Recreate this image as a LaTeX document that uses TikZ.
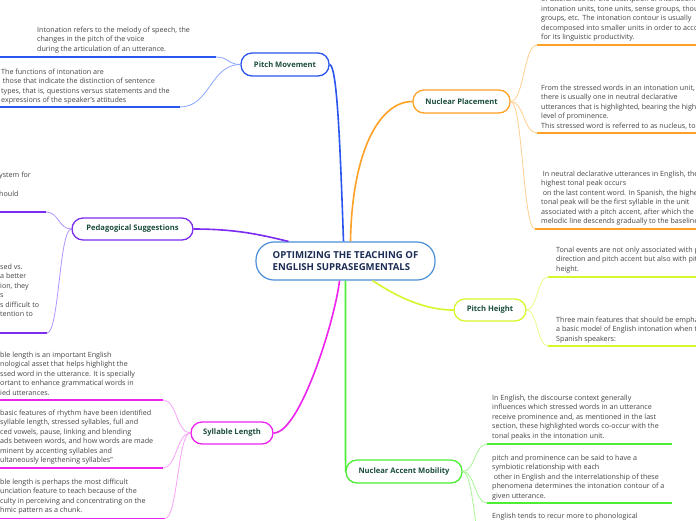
\documentclass[tikz,border=0pt]{standalone}
\usepackage{fontspec}
\setmainfont{Open Sans}
\usetikzlibrary{calc}
\definecolor{blueM}{HTML}{2A55EE}
\definecolor{blueL}{HTML}{8AA6FF}
\definecolor{purpM}{HTML}{7B2CF0}
\definecolor{purpL}{HTML}{B195FF}
\definecolor{magM}{HTML}{EE22EE}
\definecolor{magL}{HTML}{F7A3F7}
\definecolor{orM}{HTML}{FFA125}
\definecolor{orL}{HTML}{FFCF8F}
\definecolor{yelM}{HTML}{D9F52B}
\definecolor{yelL}{HTML}{E9FB8A}
\definecolor{grnM}{HTML}{4CEE33}
\definecolor{grnL}{HTML}{A6F596}
\definecolor{cenB}{HTML}{4A8FD6}
\definecolor{cenT}{HTML}{1C2C55}
\definecolor{topicc}{HTML}{1B4D3E}
\definecolor{leafc}{HTML}{454545}
\newcommand\leafconn[3]{\draw[lconn=#1] let \p1=(#2), \p2=(#3) in (\p1) .. controls ({(\x1+\x2)/2},\y1) and ({(\x1+\x2)/2},\y2) .. (\p2);}
\begin{document}
\begin{tikzpicture}[x=1pt,y=-1pt,
  leaf/.style={anchor=north west,inner sep=0pt,align=left,text=leafc,font=\fontsize{7.15}{9.5}\selectfont},
  topic/.style={draw=#1,line width=1.3pt,rounded corners=11pt,fill=white,text=topicc,font=\fontsize{7.6}{9}\selectfont\bfseries,inner sep=0pt},
  uline/.style={draw=#1,line width=1.6pt},
  lconn/.style={draw=#1,line width=0.8pt},
  mconn/.style={draw=#1,line width=1.6pt}]
\fill[white] (0,0) rectangle (696,520);
\useasboundingbox (0,0) rectangle (696,520);
\clip (0,0) rectangle (696,520);

% central and topics
\node[draw=cenB,line width=1.2pt,rounded corners=18pt,minimum width=179pt,minimum height=38pt,fill=white,
  font=\fontsize{9.6}{12}\selectfont\bfseries,text=cenT,align=left,inner sep=0pt] (c) at (345.5,261)
  {OPTIMIZING THE TEACHING OF\\ENGLISH SUPRASEGMENTALS};
\node[topic=blueM,minimum width=88pt,minimum height=23pt] (pm) at (285,64.5) {Pitch Movement};
\node[topic=purpM,minimum width=121pt,minimum height=22pt] (ps) at (132.5,229) {Pedagogical Suggestions};
\node[topic=magM,minimum width=82pt,minimum height=22pt] (sl) at (232,433) {Syllable Length};
\node[topic=orM,minimum width=97pt,minimum height=23pt] (np) at (461.5,101.5) {Nuclear Placement};
\node[topic=yelM,minimum width=72pt,minimum height=22pt] (ph) at (490,310) {Pitch Height};
\node[topic=grnM,minimum width=116pt,minimum height=23pt] (nam) at (404,471.5) {Nuclear Accent Mobility};

% main connectors
\draw[mconn=blueM] (pm.east) .. controls (337,66) and (340,140) .. ([xshift=-2pt]c.north);
\draw[mconn=orM] ([xshift=5pt]c.north) .. controls (352,150) and (380,101.5) .. (np.west);
\draw[mconn=purpM] (ps.east) .. controls (240,229) and (265,236) .. ([xshift=-57pt]c.north);
\draw[mconn=magM] (sl.east) .. controls (300,433) and (335,320) .. ([xshift=-6pt]c.south);
\draw[mconn=yelM] ([xshift=27pt]c.south) .. controls (390,292) and (420,310) .. (ph.west);
\draw[mconn=grnM] (c.south) -- (345.5,455) .. controls (345.5,468) and (346,471.5) .. (nam.west);

% ---- Pitch Movement leaves
\node[leaf] (pm1) at (37,26.5) {Intonation refers to the melody of speech, the\\changes in the pitch of the voice\\during the articulation of an utterance.};
\coordinate (pm1a) at (216,57); \coordinate (pm1b) at (-5,57);
\node[leaf] (pm2) at (1,68.5) {The functions of intonation are\\\hspace{1.6pt}those that indicate the distinction of sentence\\types, that is, questions versus statements and the\\expressions of the speaker’s attitudes};
\coordinate (pm2a) at (180,107); \coordinate (pm2b) at (-5,107);
\draw[uline=blueM] (pm1a) -- (pm1b);
\draw[uline=blueM] (pm2a) -- (pm2b);
\leafconn{blueL}{pm.west}{pm1a}
\leafconn{blueL}{pm.west}{pm2a}

% ---- Pedagogical Suggestions leaves
\node[leaf] (ps1) at (-1,171.5) {ystem for\\\mbox{}\\hould};
\coordinate (ps1a) at (46,212); \coordinate (ps1b) at (-5,212);
\node[leaf] (ps2) at (0,263.5) {sed vs.\\a better\\ion, they\\s\\s difficult to\\tention to};
\coordinate (ps2a) at (47,333); \coordinate (ps2b) at (-5,333);
\draw[uline=purpM] (ps1a) -- (ps1b);
\draw[uline=purpM] (ps2a) -- (ps2b);
\leafconn{purpL}{ps.west}{ps1a}
\leafconn{purpL}{ps.west}{ps2a}

% ---- Syllable Length leaves
\node[leaf] (sl1) at (0,351.5) {ble length is an important English\\nological asset that helps highlight the\\ssed word in the utterance. It is specially\\ortant to enhance grammatical words in\\ied utterances.};
\coordinate (sl1a) at (163,400); \coordinate (sl1b) at (-5,400);
\node[leaf] (sl2) at (0,409.5) {basic features of rhythm have been identified\\syllable length, stressed syllables, full and\\ced vowels, pause, linking and blending\\ads between words, and how words are made\\minent by accenting syllables and\\ultaneously lengthening syllables”};
\coordinate (sl2a) at (163,468); \coordinate (sl2b) at (-5,468);
\node[leaf] (sl3) at (0,478.5) {ble length is perhaps the most difficult\\unciation feature to teach because of the\\culty in perceiving and concentrating on the\\hmic pattern as a chunk.};
\coordinate (sl3a) at (165,518.5); \coordinate (sl3b) at (-5,518.5);
\draw[uline=magM] (sl1a) -- (sl1b);
\draw[uline=magM] (sl2a) -- (sl2b);
\draw[uline=magM] (sl3a) -- (sl3b);
\leafconn{magL}{sl.west}{sl1a}
\leafconn{magL}{sl.west}{sl2a}
\leafconn{magL}{sl.west}{sl3a}

% ---- Nuclear Placement leaves
\node[leaf] (np1) at (541,-3.8) {of utterances for the description of intonation:\\intonation units, tone units, sense groups, thought\\groups, etc. The intonation contour is usually\\decomposed into smaller units in order to account\\for its linguistic productivity.};
\coordinate (np1a) at (537,45); \coordinate (np1b) at (705,45);
\node[leaf] (np2) at (541,84.5) {From the stressed words in an intonation unit,\\there is usually one in neutral declarative\\utterances that is highlighted, bearing the highest\\level of prominence.\\This stressed word is referred to as nucleus, tonic};
\coordinate (np2a) at (537,133); \coordinate (np2b) at (705,133);
\node[leaf] (np3) at (541,170.5) {\hspace{1.6pt}In neutral declarative utterances in English, the\\highest tonal peak occurs\\\hspace{1.6pt}on the last content word. In Spanish, the highest\\tonal peak will be the first syllable in the unit\\associated with a pitch accent, after which the\\melodic line descends gradually to the baseline.};
\coordinate (np3a) at (535,229); \coordinate (np3b) at (705,229);
\draw[uline=orM] (np1a) -- (np1b);
\draw[uline=orM] (np2a) -- (np2b);
\draw[uline=orM] (np3a) -- (np3b);
\leafconn{orL}{np.east}{np1a}
\leafconn{orL}{np.east}{np2a}
\leafconn{orL}{np.east}{np3a}

% ---- Pitch Height leaves
\node[leaf] (ph1) at (556,246.5) {Tonal events are not only associated with pitch\\direction and pitch accent but also with pitch\\height.};
\coordinate (ph1a) at (548,277); \coordinate (ph1b) at (705,277);
\node[leaf] (ph2) at (556,316.5) {Three main features that should be emphasized in\\a basic model of English intonation when teaching\\Spanish speakers:};
\coordinate (ph2a) at (548,346); \coordinate (ph2b) at (705,346);
\draw[uline=yelM] (ph1a) -- (ph1b);
\draw[uline=yelM] (ph2a) -- (ph2b);
\leafconn{yelL}{ph.east}{ph1a}
\leafconn{yelL}{ph.east}{ph2a}

% ---- Nuclear Accent Mobility leaves
\node[leaf] (nam1) at (492,394.5) {In English, the discourse context generally\\influences which stressed words in an utterance\\receive prominence and, as mentioned in the last\\section, these highlighted words co-occur with the\\tonal peaks in the intonation unit.};
\coordinate (nam1a) at (487,444); \coordinate (nam1b) at (672,444);
\node[leaf] (nam2) at (492,454.5) {pitch and prominence can be said to have a\\symbiotic relationship with each\\\hspace{1.6pt}other in English and the interrelationship of these\\phenomena determines the intonation contour of a\\given utterance.};
\coordinate (nam2a) at (487,503); \coordinate (nam2b) at (672,503);
\node[leaf] (nam3) at (492,512.5) {English tends to recur more to phonological};
\coordinate (nam3a) at (487,560);
\draw[uline=grnM] (nam1a) -- (nam1b);
\draw[uline=grnM] (nam2a) -- (nam2b);
\leafconn{grnL}{nam.east}{nam1a}
\leafconn{grnL}{nam.east}{nam2a}
\leafconn{grnL}{nam.east}{nam3a}
\end{tikzpicture}
\end{document}
